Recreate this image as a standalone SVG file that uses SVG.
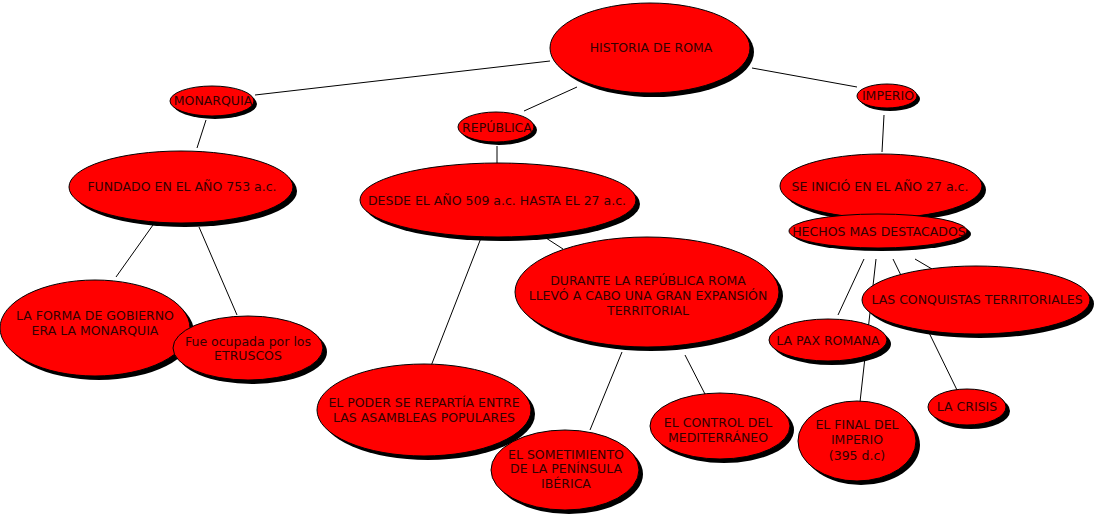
<svg xmlns="http://www.w3.org/2000/svg" width="1099" height="518" viewBox="0 0 1099 518">
<style>
.sh{fill:#000}
.el{fill:#ff0000;stroke:#000;stroke-width:1}
text{font-family:"DejaVu Sans",Verdana,sans-serif;font-size:12.5px;fill:#330000;text-anchor:middle}
#connectors line{stroke:#000;stroke-width:1}
</style>
<rect width="1099" height="518" fill="#fff"/>
<g id="connectors">
<line x1="550" y1="61" x2="255" y2="95"/>
<line x1="577" y1="87" x2="524" y2="111"/>
<line x1="752" y1="68" x2="857" y2="87"/>
<line x1="206" y1="120" x2="197" y2="148"/>
<line x1="497" y1="146" x2="497" y2="163"/>
<line x1="884" y1="115" x2="882" y2="152"/>
<line x1="153" y1="225" x2="116" y2="277"/>
<line x1="199" y1="227" x2="237" y2="315"/>
<line x1="481" y1="238" x2="431" y2="366"/>
<line x1="546" y1="238" x2="563" y2="249"/>
<line x1="622" y1="352" x2="590" y2="430"/>
<line x1="685" y1="355" x2="707" y2="398"/>
<line x1="864" y1="259" x2="838" y2="315"/>
<line x1="876" y1="259" x2="860" y2="402"/>
<line x1="915" y1="259" x2="932" y2="269"/>
<line x1="893" y1="259" x2="957" y2="390"/>
</g>
<g id="n-historia"><ellipse class="sh" cx="654" cy="52" rx="100" ry="45"/><ellipse class="el" cx="650" cy="48" rx="100" ry="45"/><text x="651" y="52">HISTORIA DE ROMA</text></g>
<g id="n-monarquia"><ellipse class="sh" cx="215" cy="104" rx="42" ry="15"/><ellipse class="el" cx="212" cy="101" rx="42" ry="15"/><text x="213" y="105">MONARQUIA</text></g>
<g id="n-republica"><ellipse class="sh" cx="499" cy="130" rx="38" ry="15"/><ellipse class="el" cx="496" cy="127" rx="38" ry="15"/><text x="497" y="132">REPÚBLICA</text></g>
<g id="n-imperio"><ellipse class="sh" cx="890" cy="99" rx="30" ry="12"/><ellipse class="el" cx="887" cy="96" rx="30" ry="12"/><text x="888" y="100">IMPERIO</text></g>
<g id="n-fundado"><ellipse class="sh" cx="185" cy="191" rx="112" ry="36"/><ellipse class="el" cx="181" cy="187" rx="112" ry="36"/><text x="182" y="191">FUNDADO EN EL AÑO 753 a.c.</text></g>
<g id="n-desde"><ellipse class="sh" cx="502" cy="204" rx="138" ry="37"/><ellipse class="el" cx="498" cy="200" rx="138" ry="37"/><text x="497" y="205">DESDE EL AÑO 509 a.c. HASTA EL 27 a.c.</text></g>
<g id="n-inicio"><ellipse class="sh" cx="885" cy="190" rx="101" ry="32"/><ellipse class="el" cx="881" cy="186" rx="101" ry="32"/><text x="880" y="191">SE INICIÓ EN EL AÑO 27 a.c.</text></g>
<g id="n-hechos"><ellipse class="sh" cx="882" cy="234" rx="89" ry="17"/><ellipse class="el" cx="878" cy="231" rx="89" ry="17"/><text x="879" y="236">HECHOS MAS DESTACADOS</text></g>
<g id="n-forma"><ellipse class="sh" cx="99" cy="332" rx="95" ry="48"/><ellipse class="el" cx="95" cy="328" rx="95" ry="48"/><text x="95" y="320">LA FORMA DE GOBIERNO</text><text x="95" y="335">ERA LA MONARQUIA</text></g>
<g id="n-etruscos"><ellipse class="sh" cx="252" cy="352" rx="75" ry="32"/><ellipse class="el" cx="248" cy="348" rx="75" ry="32"/><text x="248" y="346">Fue ocupada por los</text><text x="248" y="360">ETRUSCOS</text></g>
<g id="n-durante"><ellipse class="sh" cx="651" cy="296" rx="132" ry="55"/><ellipse class="el" cx="647" cy="292" rx="132" ry="55"/><text x="648" y="285">DURANTE LA REPÚBLICA ROMA</text><text x="648" y="300">LLEVÓ A CABO UNA GRAN EXPANSIÓN</text><text x="648" y="315">TERRITORIAL</text></g>
<g id="n-poder"><ellipse class="sh" cx="428" cy="414" rx="107" ry="46"/><ellipse class="el" cx="424" cy="410" rx="107" ry="46"/><text x="424" y="407">EL PODER SE REPARTÍA ENTRE</text><text x="424" y="422">LAS ASAMBLEAS POPULARES</text></g>
<g id="n-sometimiento"><ellipse class="sh" cx="569" cy="474" rx="74" ry="40"/><ellipse class="el" cx="565" cy="470" rx="74" ry="40"/><text x="566" y="459">EL SOMETIMIENTO</text><text x="566" y="473">DE LA PENÍNSULA</text><text x="566" y="488">IBÉRICA</text></g>
<g id="n-control"><ellipse class="sh" cx="724" cy="430" rx="70" ry="33"/><ellipse class="el" cx="720" cy="426" rx="70" ry="33"/><text x="718" y="427">EL CONTROL DEL</text><text x="718" y="442">MEDITERRÁNEO</text></g>
<g id="n-conquistas"><ellipse class="sh" cx="980" cy="304" rx="114" ry="34"/><ellipse class="el" cx="976" cy="300" rx="114" ry="34"/><text x="977" y="304">LAS CONQUISTAS TERRITORIALES</text></g>
<g id="n-pax"><ellipse class="sh" cx="832" cy="344" rx="59" ry="21"/><ellipse class="el" cx="828" cy="340" rx="59" ry="21"/><text x="828" y="345">LA PAX ROMANA</text></g>
<g id="n-final"><ellipse class="sh" cx="861" cy="445" rx="59" ry="40"/><ellipse class="el" cx="857" cy="441" rx="59" ry="40"/><text x="857" y="429">EL FINAL DEL</text><text x="857" y="444">IMPERIO</text><text x="857" y="460">(395 d.c)</text></g>
<g id="n-crisis"><ellipse class="sh" cx="971" cy="411" rx="39" ry="18"/><ellipse class="el" cx="967" cy="407" rx="39" ry="18"/><text x="967" y="411">LA CRISIS</text></g>
</svg>
